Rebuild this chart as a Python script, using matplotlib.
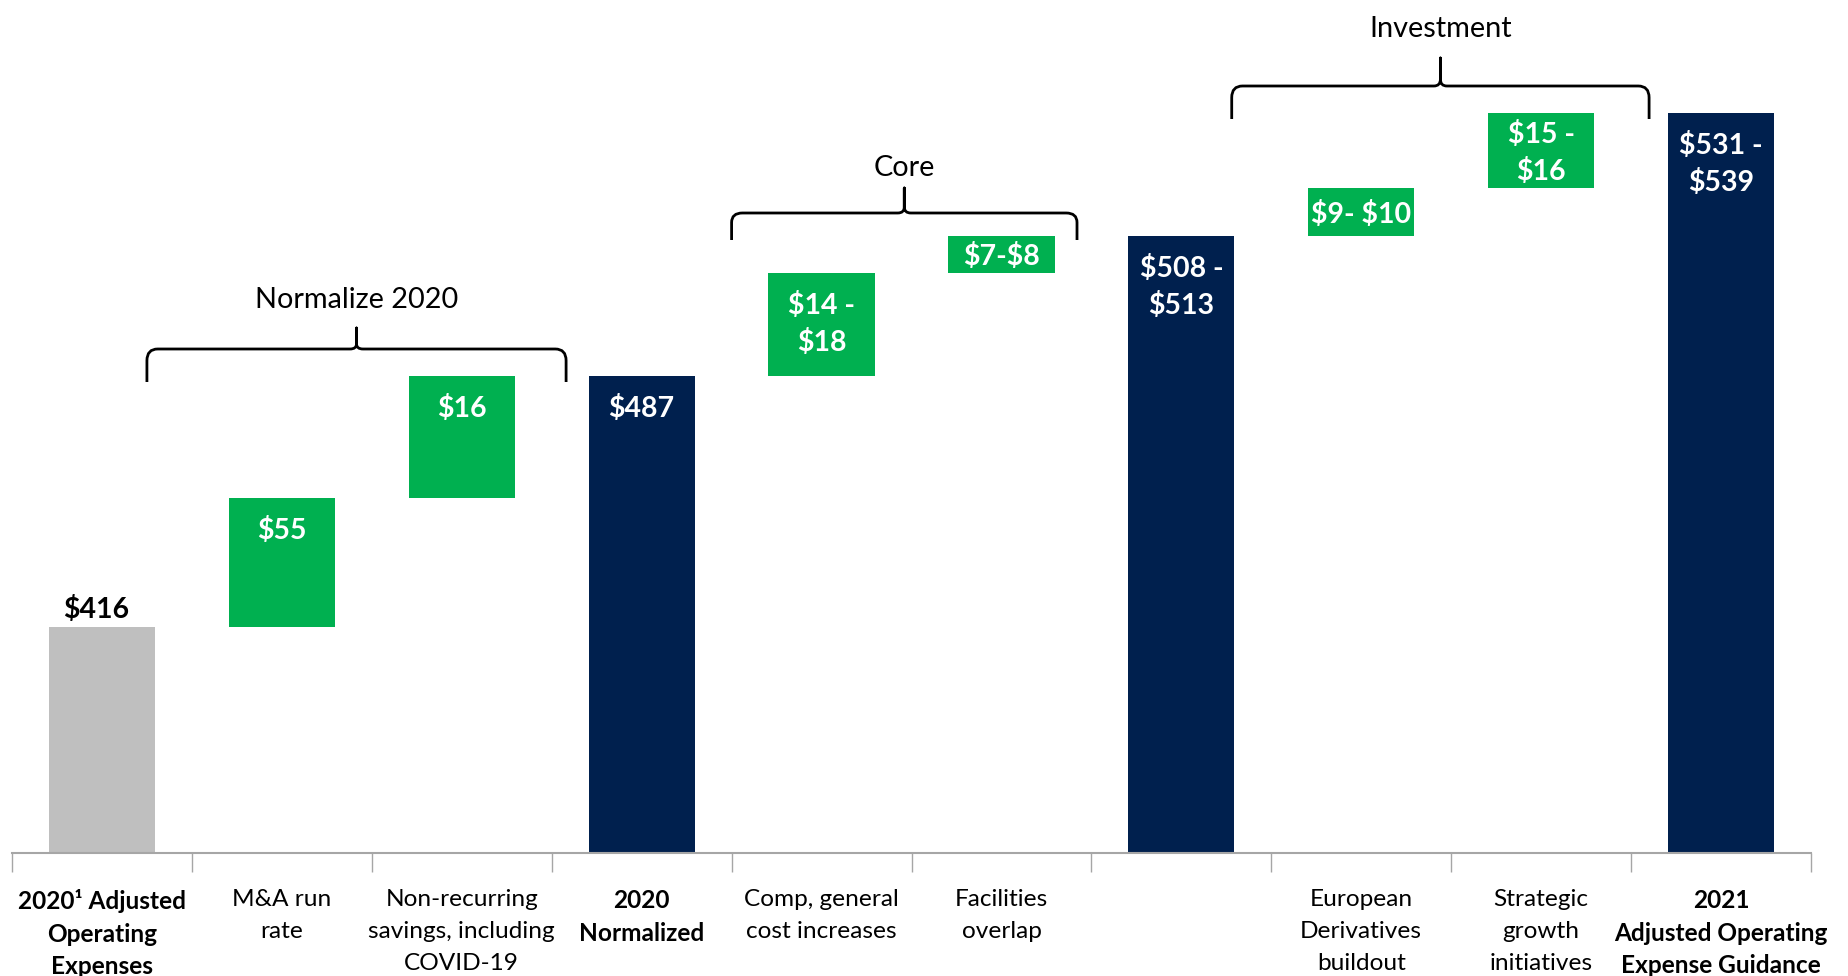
import matplotlib
matplotlib.use("Agg")
import matplotlib.pyplot as plt
from matplotlib.path import Path
from matplotlib.patches import PathPatch
from matplotlib.transforms import blended_transform_factory

plt.rcParams['font.family'] = ['Lato', 'DejaVu Sans']

# ---- data (bar levels, in chart height units) ----
categories = [
    "2020\u00b9 Adjusted\nOperating\nExpenses",
    "M&A run\nrate",
    "Non-recurring\nsavings, including\nCOVID-19",
    "2020\nNormalized",
    "Comp, general\ncost increases",
    "Facilities\noverlap",
    "",
    "European\nDerivatives\nbuildout",
    "Strategic\ngrowth\ninitiatives",
    "2021\nAdjusted Operating\nExpense Guidance",
]
bold_category = [True, False, False, True, False, False, False, False, False, True]
value_labels = ["$416", "$55", "$16", "$487", "$14 -\n$18", "$7-$8",
                "$508 -\n$513", "$9- $10", "$15 -\n$16", "$531 -\n$539"]
bar_bottom = [0, 226, 355, 0, 477, 580, 0, 617, 665, 0]
bar_top = [226, 355, 477, 477, 580, 617, 617, 665, 740, 740]
bar_kind = ["start", "step", "step", "total", "step", "step", "total", "step", "step", "total"]

groups = ["Normalize 2020", "Core", "Investment"]
group_span = [(0.25, 2.58), (3.5, 5.42), (6.28, 8.6)]
group_levels = [(471, 504, 525), (613, 640, 665), (734, 767, 795)]  # end, bar, tip
group_label_y = [553, 685, 824]

colors = {"start": "#BFBFBF", "step": "#00B050", "total": "#00204E"}

# ---- figure ----
W, H = 1848, 976
fig = plt.figure(figsize=(W / 100, H / 100), dpi=100)
ax = fig.add_axes([12 / W, 123 / H, 1799 / W, 853 / H])
ax.set_xlim(-0.5, len(categories) - 0.5)
ax.set_ylim(0, 853)

x = list(range(len(categories)))
heights = [t - b for t, b in zip(bar_top, bar_bottom)]
ax.bar(x, heights, bottom=bar_bottom, width=0.59,
       color=[colors[k] for k in bar_kind], edgecolor="none", zorder=2)

# value labels
for i, (lab, b, t, k) in enumerate(zip(value_labels, bar_bottom, bar_top, bar_kind)):
    if k == "start":
        ax.annotate(lab, (i - 0.03, t), xytext=(0, 3), textcoords="offset points",
                    ha="center", va="bottom", fontsize=20.5, fontweight="bold",
                    color="black", parse_math=False)
    elif t - b < 90:
        ax.annotate(lab, (i, (t + b) / 2), xytext=(0, -1.5),
                    textcoords="offset points", ha="center", va="center",
                    fontsize=20.5, fontweight="bold", color="white",
                    linespacing=1.45, parse_math=False)
    else:
        ax.annotate(lab, (i, t), xytext=(0, -13.5), textcoords="offset points",
                    ha="center", va="top", fontsize=20.5, fontweight="bold",
                    color="white", linespacing=1.45, parse_math=False)

# category labels
trans = blended_transform_factory(ax.transData, ax.transAxes)
for i, (c, bld) in enumerate(zip(categories, bold_category)):
    ax.annotate(c, (i, 0), xycoords=trans, xytext=(0, -26),
                textcoords="offset points", ha="center", va="top",
                fontsize=17.6, fontweight="bold" if bld else "normal",
                color="black", linespacing=1.50 if bld else 1.64)

# axis styling
for s in ["top", "right", "left"]:
    ax.spines[s].set_visible(False)
ax.spines["bottom"].set_color("#A6A6A6")
ax.spines["bottom"].set_linewidth(1.5)
ax.set_yticks([])
ax.set_xticks([i - 0.5 for i in range(len(categories) + 1)])
ax.set_xticklabels([])
ax.tick_params(axis="x", length=14, width=1.0, color="#A6A6A6", direction="out")


def brace(x0, x1, y_end, y_bar, y_tip):
    xm = (x0 + x1) / 2
    r = 0.06
    dy = (y_bar - y_end) * 0.35
    tipdy = (y_tip - y_bar) * 0.6
    verts = [
        (x0, y_end), (x0, y_bar - dy), (x0, y_bar), (x0 + r, y_bar),
        (xm - r * 0.6, y_bar), (xm, y_bar), (xm, y_bar + tipdy * 0.4),
        (xm, y_tip),
        (xm, y_bar + tipdy * 0.4), (xm, y_bar), (xm + r * 0.6, y_bar),
        (x1 - r, y_bar), (x1, y_bar), (x1, y_bar - dy), (x1, y_end),
    ]
    codes = [Path.MOVETO, Path.LINETO, Path.CURVE3, Path.CURVE3,
             Path.LINETO, Path.CURVE3, Path.CURVE3, Path.LINETO,
             Path.LINETO, Path.CURVE3, Path.CURVE3,
             Path.LINETO, Path.CURVE3, Path.CURVE3, Path.LINETO]
    ax.add_patch(PathPatch(Path(verts, codes), fill=False, lw=2.0,
                           edgecolor="black", capstyle="butt", joinstyle="round",
                           clip_on=False))


for g, (x0, x1), (ye, yb, yt), ly in zip(groups, group_span, group_levels, group_label_y):
    brace(x0, x1, ye, yb, yt)
    ax.text((x0 + x1) / 2, ly, g, ha="center", va="center", fontsize=20.8,
            color="black")

fig.savefig("out.png", dpi=100)
